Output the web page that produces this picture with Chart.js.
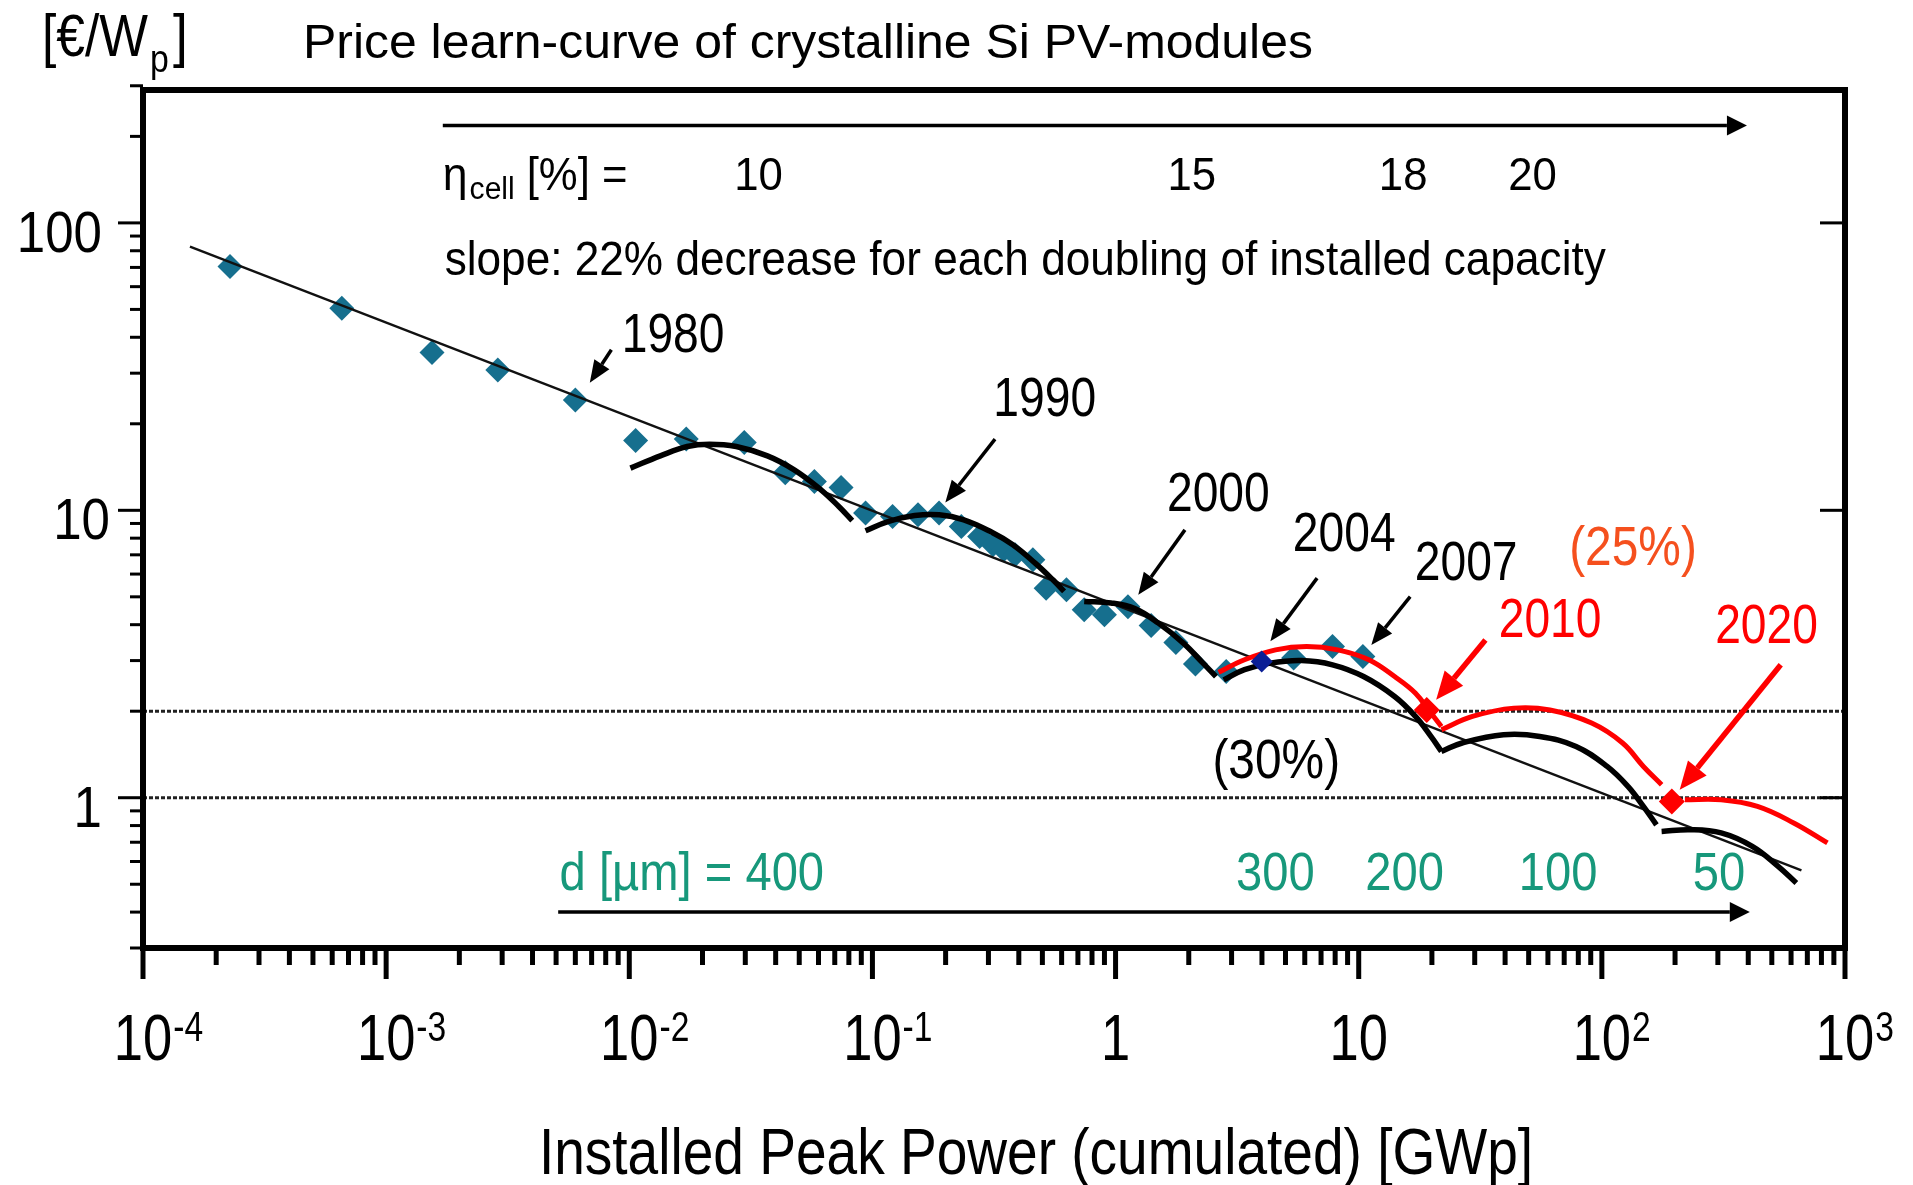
<!DOCTYPE html>
<html>
<head>
<meta charset="utf-8">
<script src="https://cdn.jsdelivr.net/npm/chart.js@4/dist/chart.umd.min.js"></script>
<style>
  html, body { margin: 0; padding: 0; background: #fff; }
  canvas { display: block; }
</style>
</head>
<body>
<canvas id="learnCurve" width="1913" height="1185"></canvas>
<script>
// module prices, cumulated GWp vs EUR/Wp
const priceX = [2.28e-4, 6.57e-4, 1.544e-3, 2.88e-3, 6.0e-3, 0.01062, 0.01715, 0.0297, 0.0438, 0.0577,
  0.0743, 0.0937, 0.121, 0.154, 0.188, 0.232, 0.276, 0.313, 0.347, 0.386, 0.457, 0.518, 0.628, 0.743,
  0.90, 1.124, 1.40, 1.77, 2.13, 2.85, 5.40, 7.80, 10.4];
const priceY = [70.5, 50.5, 35.4, 30.8, 24.2, 17.5, 17.7, 17.2, 13.5, 12.6,
  12.0, 9.78, 9.52, 9.65, 9.78, 8.78, 8.11, 7.59, 7.29, 7.0, 6.73, 5.36, 5.29, 4.51,
  4.33, 4.62, 3.97, 3.47, 2.92, 2.75, 3.06, 3.36, 3.10];
const point2004 = [[3.99, 2.98]];
const forecastPoints = [[19.05, 2.02], [194, 0.97]];

// learning line (straight fit)
const fitLine = [[1.56e-4, 82.7], [662, 0.559]];
const refLevels = [2, 1];

// price cycles (black) and forecast (red)
const arcA = [[0.01011, 14.02], [0.01342, 15.47], [0.0173, 16.67], [0.02136, 16.99], [0.02753, 16.67],
  [0.03698, 15.47], [0.04768, 13.83], [0.06143, 11.79], [0.07274, 10.31], [0.0826, 9.21]];
const arcB = [[0.09367, 8.49], [0.1158, 9.14], [0.1492, 9.59], [0.1882, 9.65], [0.2375, 9.27],
  [0.3057, 8.44], [0.3779, 7.59], [0.4669, 6.55], [0.5524, 5.73], [0.6142, 5.22]];
const arcC = [[0.743, 4.82], [0.957, 4.76], [1.20, 4.55], [1.50, 4.05], [1.90, 3.45], [2.289, 2.94], [2.588, 2.64]];
const arcD = [[2.784, 2.57], [3.39, 2.79], [4.327, 2.94], [5.813, 3.0], [7.803, 2.9], [10.47, 2.64],
  [14.05, 2.25], [17.12, 1.918], [19.82, 1.634], [21.88, 1.449]];
const arcE = [[21.88, 1.449], [26.63, 1.55], [39.39, 1.656], [55.55, 1.634], [78.32, 1.508],
  [105.1, 1.285], [128, 1.095], [148.2, 0.933], [167.7, 0.805]];
const arcF = [[176.1, 0.763], [230.6, 0.774], [309.6, 0.754], [415.5, 0.677], [530.9, 0.577], [630.7, 0.505]];
const redArc1 = [[2.653, 2.73], [3.39, 3.02], [4.55, 3.27], [6.107, 3.36], [8.197, 3.27], [11.0, 3.02],
  [14.05, 2.64], [17.12, 2.31], [19.82, 1.97], [21.88, 1.77]];
const redArc2 = [[21.88, 1.724], [29.36, 1.918], [43.48, 2.05], [61.17, 2.02], [90.79, 1.819],
  [121.7, 1.55], [148.2, 1.285], [176.1, 1.11]];
const redArc3 = [[219.5, 0.984], [309.6, 0.984], [436.4, 0.933], [615.3, 0.817], [846.7, 0.696]];

// axes
const xDecades = [-4, -3, -2, -1, 0, 1, 2, 3];
const xTickLabels = [['10', '-4'], ['10', '-3'], ['10', '-2'], ['10', '-1'], ['1', ''], ['10', ''], ['10', '2'], ['10', '3']];
const yTickValues = [1, 10, 100];
const yTickLabels = ['1', '10', '100'];

// annotations (anchor in data units)
const yearLabels = ['1980', '1990', '2000', '2004', '2007'];
const yearLabelAt = [[0.01514, 41.8], [0.5112, 24.88], [2.646, 11.69], [8.716, 8.49], [27.66, 6.73]];
const yearArrows = [
  [[8.44e-3, 36.2], [6.88e-3, 27.8]],
  [[0.3193, 17.69], [0.1994, 10.64]],
  [[1.929, 8.55], [1.240, 5.08]],
  [[6.741, 5.81], [4.331, 3.50]],
  [[16.28, 5.01], [11.27, 3.40]]
];
const forecastLabels = ['2010', '2020'];
const forecastLabelAt = [[61.24, 4.26], [475.7, 4.06]];
const forecastArrows = [
  [[33.2, 3.54], [20.82, 2.19]],
  [[544.1, 2.90], [209, 1.066]]
];
const rateLabels = ['(25%)', '(30%)'];
const rateLabelAt = [[134.3, 7.59], [4.58, 1.367]];

const etaLabels = ['10', '15', '18', '20'];
const etaX = [0.034, 2.056, 15.23, 51.9];
const etaRow = [1.71e-3, 148.1];
const etaArrow = [[1.71e-3, 218], [395, 218]];
const slopeText = 'slope: 22% decrease for each doubling of installed capacity';
const slopeAt = [1.74e-3, 75.5];

const waferLead = 'd [\u00b5m] = 400';
const waferLabels = ['300', '200', '100', '50'];
const waferX = [4.54, 15.44, 66.05, 303];
const waferRow = [5.17e-3, 0.557];
const waferArrow = [[5.1e-3, 0.4], [406, 0.4]];

const FONT = '"Liberation Sans", Arial, Helvetica, sans-serif';
const TEAL = '#17987b';

const pts = arr => arr.map(p => ({ x: p[0], y: p[1] }));

// y is the middle of the cap height
function txt(ctx, s, x, y, size, sx, color, align) {
  ctx.save();
  ctx.font = size + 'px ' + FONT;
  ctx.fillStyle = color;
  ctx.textAlign = align || 'center';
  ctx.textBaseline = 'alphabetic';
  ctx.translate(x, y + 0.36 * size);
  ctx.scale(sx, 1);
  ctx.fillText(s, 0, 0);
  ctx.restore();
}
function textWidth(ctx, s, size, sx) {
  ctx.save();
  ctx.font = size + 'px ' + FONT;
  const w = ctx.measureText(s).width * sx;
  ctx.restore();
  return w;
}
function arrow(ctx, x1, y1, x2, y2, color, lw, head, hw) {
  const ang = Math.atan2(y2 - y1, x2 - x1);
  const bx = x2 - head * Math.cos(ang), by = y2 - head * Math.sin(ang);
  ctx.strokeStyle = color;
  ctx.lineWidth = lw;
  ctx.beginPath();
  ctx.moveTo(x1, y1);
  ctx.lineTo(bx, by);
  ctx.stroke();
  ctx.fillStyle = color;
  ctx.beginPath();
  ctx.moveTo(x2, y2);
  ctx.lineTo(bx + hw * Math.sin(ang), by - hw * Math.cos(ang));
  ctx.lineTo(bx - hw * Math.sin(ang), by + hw * Math.cos(ang));
  ctx.closePath();
  ctx.fill();
}
function seg(ctx, x1, y1, x2, y2) {
  ctx.beginPath();
  ctx.moveTo(x1, y1);
  ctx.lineTo(x2, y2);
  ctx.stroke();
}

const deco = {
  id: 'deco',
  afterDraw(chart) {
    const ctx = chart.ctx;
    const a = chart.chartArea;
    const xs = chart.scales.x, ys = chart.scales.y;
    const px = v => xs.getPixelForValue(v);
    const py = v => ys.getPixelForValue(v);
    ctx.save();
    ctx.lineCap = 'butt';
    ctx.strokeStyle = '#000';

    // bottom ticks
    ctx.lineWidth = 5;
    for (const d of xDecades) {
      for (let k = 1; k <= 9; k++) {
        const v = k * Math.pow(10, d);
        if (v > 1000.001) break;
        const X = px(v);
        seg(ctx, X, a.bottom, X, a.bottom + (k === 1 ? 31 : 17));
      }
    }
    // left ticks
    ctx.lineWidth = 3;
    for (let d = -1; d <= 2; d++) {
      for (let k = 1; k <= 9; k++) {
        const v = k * Math.pow(10, d);
        if (v < 0.2999 || v > 300.001) continue;
        const Y = py(v);
        seg(ctx, a.left, Y, a.left - (k === 1 ? 25 : 13), Y);
      }
    }
    // right ticks, inside
    for (const v of yTickValues) seg(ctx, a.right, py(v), a.right - 25, py(v));

    // frame
    ctx.lineWidth = 6;
    ctx.strokeRect(a.left, a.top, a.right - a.left, a.bottom - a.top);

    // x tick labels
    xDecades.forEach((d, i) => {
      const [base, sup] = xTickLabels[i];
      const X = px(Math.pow(10, d));
      txt(ctx, base, X, a.bottom + 89, 64, 0.82, '#000', 'center');
      if (sup) {
        const w = textWidth(ctx, base, 64, 0.82);
        txt(ctx, sup, X + w / 2 + 1, a.bottom + 78, 42, 0.8, '#000', 'left');
      }
    });
    // y tick labels
    yTickValues.forEach((v, i) => txt(ctx, yTickLabels[i], 102 + (i === 1 ? 8 : 0), py(v) + 8, 58, 0.88, '#000', 'right'));

    // axis titles
    txt(ctx, 'Installed Peak Power (cumulated) [GWp]', (a.left + a.right) / 2 + 42, a.bottom + 203, 64, 0.86, '#000', 'center');
    const w1 = textWidth(ctx, '[\u20ac/W', 60, 0.86);
    txt(ctx, '[\u20ac/W', 42, 34, 60, 0.86, '#000', 'left');
    txt(ctx, 'p', 42 + w1 + 2, 58, 38, 0.89, '#000', 'left');
    const wp = textWidth(ctx, 'p', 38, 0.89);
    txt(ctx, ']', 42 + w1 + wp + 6, 34, 60, 0.89, '#000', 'left');
    txt(ctx, 'Price learn-curve of crystalline Si PV-modules', 303, 41, 48, 1.04, '#000', 'left');

    // efficiency row
    arrow(ctx, px(etaArrow[0][0]), py(etaArrow[0][1]), px(etaArrow[1][0]), py(etaArrow[1][1]), '#000', 3.5, 20, 10);
    let ex = px(etaRow[0]);
    const ey = py(etaRow[1]);
    txt(ctx, '\u03b7', ex, ey, 46, 0.97, '#000', 'left');
    ex += textWidth(ctx, '\u03b7', 46, 0.97) + 2;
    txt(ctx, 'cell', ex, ey + 14, 31, 0.97, '#000', 'left');
    ex += textWidth(ctx, 'cell', 31, 0.97) + 12;
    txt(ctx, '[%] =', ex, ey, 46, 0.95, '#000', 'left');
    etaLabels.forEach((s, i) => txt(ctx, s, px(etaX[i]), ey, 46, 0.95, '#000', 'center'));
    txt(ctx, slopeText, px(slopeAt[0]), py(slopeAt[1]), 48, 0.92, '#000', 'left');

    // wafer thickness row
    arrow(ctx, px(waferArrow[0][0]), py(waferArrow[0][1]), px(waferArrow[1][0]), py(waferArrow[1][1]), '#000', 3.5, 20, 10);
    const wy = py(waferRow[1]);
    txt(ctx, waferLead, px(waferRow[0]), wy, 53, 0.89, TEAL, 'left');
    waferLabels.forEach((s, i) => txt(ctx, s, px(waferX[i]), wy, 53, 0.89, TEAL, 'center'));

    // year annotations
    yearArrows.forEach(([t, h]) => arrow(ctx, px(t[0]), py(t[1]), px(h[0]), py(h[1]), '#000', 3.5, 22, 9));
    yearLabels.forEach((s, i) => txt(ctx, s, px(yearLabelAt[i][0]), py(yearLabelAt[i][1]), 55, 0.84, '#000', 'center'));
    forecastArrows.forEach(([t, h]) => arrow(ctx, px(t[0]), py(t[1]), px(h[0]), py(h[1]), '#ff0000', 5.5, 28, 12));
    forecastLabels.forEach((s, i) => txt(ctx, s, px(forecastLabelAt[i][0]), py(forecastLabelAt[i][1]), 55, 0.84, '#ff0000', 'center'));
    txt(ctx, rateLabels[0], px(rateLabelAt[0][0]), py(rateLabelAt[0][1]), 55, 0.87, '#f5501e', 'center');
    txt(ctx, rateLabels[1], px(rateLabelAt[1][0]), py(rateLabelAt[1][1]), 55, 0.87, '#000', 'center');
    ctx.restore();
  }
};

const arcStyle = (arr, color, w, order) => ({
  data: pts(arr), showLine: true, borderColor: color, borderWidth: w,
  pointRadius: 0, tension: 0.4, order: order
});

new Chart(document.getElementById('learnCurve'), {
  type: 'scatter',
  data: {
    datasets: [
      {
        data: priceX.map((x, i) => ({ x: x, y: priceY[i] })),
        pointStyle: 'rectRot', pointRadius: 12.5, backgroundColor: '#166f8e', borderWidth: 0, order: 10
      },
      ...refLevels.map(v => ({
        data: pts([[1e-4, v], [1e3, v]]), showLine: true, borderColor: '#222', borderWidth: 3,
        borderDash: [4, 2], pointRadius: 0, order: 9
      })),
      { data: pts(fitLine), showLine: true, borderColor: '#111', borderWidth: 2.4, pointRadius: 0, order: 6 },
      ...[arcA, arcB, arcC, arcD, arcE, arcF].map(arr => arcStyle(arr, '#000', 5.5, 5)),
      ...[redArc1, redArc2, redArc3].map(arr => arcStyle(arr, '#ff0000', 5, 4)),
      { data: pts(point2004), pointStyle: 'rectRot', pointRadius: 11, backgroundColor: '#0b1f96', borderWidth: 0, order: 3 },
      { data: pts(forecastPoints), pointStyle: 'rectRot', pointRadius: 13, backgroundColor: '#ff0000', borderWidth: 0, order: 1 }
    ]
  },
  options: {
    responsive: false,
    animation: false,
    events: [],
    layout: { padding: { left: 143, right: 68, top: 90, bottom: 237 } },
    plugins: { legend: { display: false }, tooltip: { enabled: false } },
    scales: {
      x: { type: 'logarithmic', min: 1e-4, max: 1e3, display: false },
      y: { type: 'logarithmic', min: 0.3, max: 290, display: false }
    }
  },
  plugins: [deco]
});
</script>
</body>
</html>
